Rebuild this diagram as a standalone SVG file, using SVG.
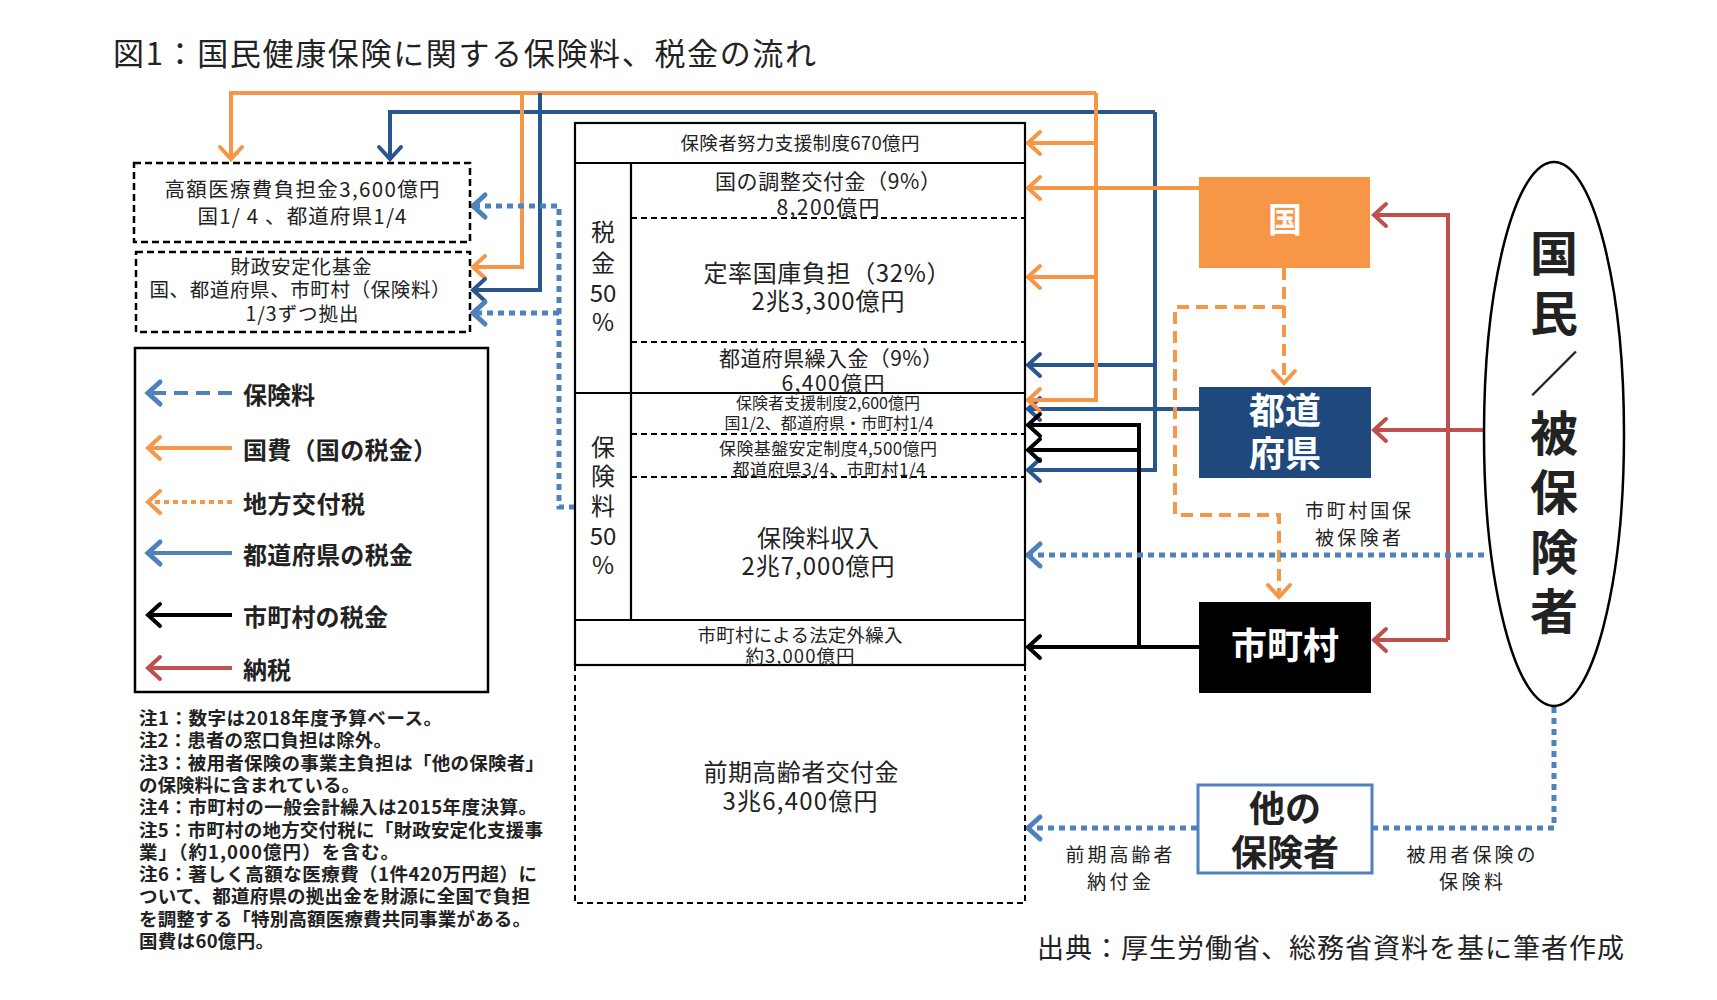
<svg xmlns="http://www.w3.org/2000/svg" width="1717" height="1000" viewBox="0 0 1717 1000">
<style>
text{font-family:"Noto Sans CJK JP","Noto Sans",sans-serif;fill:#222;dominant-baseline:central}
.m{text-anchor:middle}
.b{font-weight:bold}
.w{fill:#fff;font-weight:bold;text-anchor:middle}
.c{fill:none;stroke-width:4;stroke-linejoin:miter}
.or{stroke:#F79646}
.nv{stroke:#2A5690}
.bk{stroke:#000}
.rd{stroke:#C0504D}
.lb{stroke:#4F81BD}
.od{stroke:#F79646;stroke-dasharray:12 7}
.bd{stroke:#4F81BD;stroke-width:5;stroke-dasharray:6 5}
.dash{fill:none;stroke:#000;stroke-width:2;stroke-dasharray:6 4}
.sol{fill:none;stroke:#000;stroke-width:2.2}
</style>
<defs>
<marker id="aO" markerUnits="userSpaceOnUse" viewBox="-16 -13 18 26" refX="0" refY="0" markerWidth="18" markerHeight="26" orient="auto" overflow="visible"><path d="M-13,-11 L-1,0 L-13,11" fill="none" stroke="#F79646" stroke-width="4" stroke-linecap="round"/></marker>
<marker id="aN" markerUnits="userSpaceOnUse" viewBox="-16 -13 18 26" refX="0" refY="0" markerWidth="18" markerHeight="26" orient="auto" overflow="visible"><path d="M-13,-11 L-1,0 L-13,11" fill="none" stroke="#2A5690" stroke-width="4" stroke-linecap="round"/></marker>
<marker id="aK" markerUnits="userSpaceOnUse" viewBox="-16 -13 18 26" refX="0" refY="0" markerWidth="18" markerHeight="26" orient="auto" overflow="visible"><path d="M-13,-11 L-1,0 L-13,11" fill="none" stroke="#000" stroke-width="4" stroke-linecap="round"/></marker>
<marker id="aR" markerUnits="userSpaceOnUse" viewBox="-16 -13 18 26" refX="0" refY="0" markerWidth="18" markerHeight="26" orient="auto" overflow="visible"><path d="M-13,-11 L-1,0 L-13,11" fill="none" stroke="#C0504D" stroke-width="4" stroke-linecap="round"/></marker>
<marker id="aB" markerUnits="userSpaceOnUse" viewBox="-16 -13 18 26" refX="0" refY="0" markerWidth="18" markerHeight="26" orient="auto" overflow="visible"><path d="M-13,-11 L-1,0 L-13,11" fill="none" stroke="#4F81BD" stroke-width="5" stroke-linecap="round"/></marker>
</defs>

<g id="title"><text x="113" y="51" font-size="31" textLength="703">図1：国民健康保険に関する保険料、税金の流れ</text></g>

<g id="connectors">
  <path class="c nv" d="M1155,112 H390 V160" marker-end="url(#aN)"/>
  <path class="c nv" d="M1155,112 V470 H1027" marker-end="url(#aN)"/>
  <path class="c nv" d="M1155,365 H1027" marker-end="url(#aN)"/>
  <path class="c nv" d="M1199,409 H1027" marker-end="url(#aN)"/>
  <path class="c or" d="M1096,93 H231 V160" marker-end="url(#aO)"/>
  <path class="c or" d="M1096,93 V400 H1027" marker-end="url(#aO)"/>
  <path class="c or" d="M1096,143 H1027" marker-end="url(#aO)"/>
  <path class="c or" d="M1096,277 H1027" marker-end="url(#aO)"/>
  <path class="c or" d="M1199,188 H1027" marker-end="url(#aO)"/>
  <path class="c or" d="M522,93 V267 H472" marker-end="url(#aO)"/>
  <path class="c nv" d="M540,93 V290 H472" marker-end="url(#aN)"/>
  <path class="c bk" d="M1199,647 H1027" marker-end="url(#aK)"/>
  <path class="c bk" d="M1139,647 V425 H1027" marker-end="url(#aK)"/>
  <path class="c bk" d="M1139,450 H1027" marker-end="url(#aK)"/>
  <path class="c rd" d="M1448,640 V215 H1373" marker-end="url(#aR)"/>
  <path class="c rd" d="M1448,640 H1373" marker-end="url(#aR)"/>
  <path class="c rd" d="M1484,430 H1373" marker-end="url(#aR)"/>
  <path class="c od" d="M1284,268 V384" marker-end="url(#aO)"/>
  <path class="c od" d="M1284,307 H1175 V515 H1279 V598" marker-end="url(#aO)"/>
  <path class="c bd" d="M575,507 H559 V206 H472" marker-end="url(#aB)"/>
  <path class="c bd" d="M559,313 H472" marker-end="url(#aB)"/>
  <path class="c bd" d="M1484,555 H1027" marker-end="url(#aB)"/>
  <path class="c bd" d="M1554,707 V828 H1373"/>
  <path class="c bd" d="M1197,828 H1027" marker-end="url(#aB)"/>
</g>

<g id="node-kogaku">
  <rect x="134" y="163" width="336" height="79" fill="#fff" stroke="#000" stroke-width="2.5" stroke-dasharray="7 4"/>
  <text class="m" x="302" y="188" font-size="20.5" textLength="275">高額医療費負担金3,600億円</text>
  <text class="m" x="302" y="215" font-size="20.5" textLength="209">国1/ 4 、都道府県1/4</text>
</g>
<g id="node-zaisei">
  <rect x="136" y="252" width="334" height="80" fill="#fff" stroke="#000" stroke-width="2.5" stroke-dasharray="7 4"/>
  <text class="m" x="301" y="265" font-size="19.5" textLength="141">財政安定化基金</text>
  <text class="m" x="300" y="288" font-size="19.5" textLength="301">国、都道府県、市町村（保険料）</text>
  <text class="m" x="302" y="312" font-size="19.5" textLength="113">1/3ずつ拠出</text>
</g>

<g id="legend">
  <rect x="135" y="348" width="353" height="344" fill="#fff" stroke="#000" stroke-width="2.5"/>
  <path class="c lb" d="M232,393 H147" stroke-width="5" stroke-dasharray="14 8" marker-end="url(#aB)"/>
  <path class="c or" d="M232,448 H147" stroke-width="5" marker-end="url(#aO)"/>
  <path class="c or" d="M232,502 H147" stroke-width="5" stroke-dasharray="5 4" marker-end="url(#aO)"/>
  <path class="c lb" d="M232,553 H147" stroke-width="5" marker-end="url(#aB)"/>
  <path class="c bk" d="M232,615 H147" stroke-width="5" marker-end="url(#aK)"/>
  <path class="c rd" d="M232,668 H147" stroke-width="5" marker-end="url(#aR)"/>
  <text class="b" x="243" y="393" font-size="24" textLength="72">保険料</text>
  <text class="b" x="243" y="448" font-size="24" textLength="194">国費（国の税金）</text>
  <text class="b" x="243" y="502" font-size="24" textLength="122">地方交付税</text>
  <text class="b" x="243" y="553" font-size="24" textLength="170">都道府県の税金</text>
  <text class="b" x="243" y="615" font-size="24" textLength="145">市町村の税金</text>
  <text class="b" x="243" y="668" font-size="24" textLength="48">納税</text>
</g>

<g id="notes" font-size="18.5" font-weight="bold">
  <text x="139" y="717" textLength="303">注1：数字は2018年度予算ベース。</text>
  <text x="139" y="739" textLength="253">注2：患者の窓口負担は除外。</text>
  <text x="139" y="762" textLength="405">注3：被用者保険の事業主負担は「他の保険者」</text>
  <text x="139" y="784" textLength="221">の保険料に含まれている。</text>
  <text x="139" y="806" textLength="398">注4：市町村の一般会計繰入は2015年度決算。</text>
  <text x="139" y="829" textLength="404">注5：市町村の地方交付税に「財政安定化支援事</text>
  <text x="139" y="851" textLength="260">業」（約1,000億円）を含む。</text>
  <text x="139" y="873" textLength="398">注6：著しく高額な医療費（1件420万円超）に</text>
  <text x="139" y="895" textLength="391">ついて、都道府県の拠出金を財源に全国で負担</text>
  <text x="139" y="918" textLength="392">を調整する「特別高額医療費共同事業がある。</text>
  <text x="139" y="940" textLength="135">国費は60億円。</text>
</g>

<g id="node-kokuho-finance">
  <rect x="575" y="123" width="450" height="542" fill="#fff" stroke="none"/>
  <path class="dash" d="M575,665 V903 H1025 V665"/>
  <rect class="sol" x="575" y="123" width="450" height="542"/>
  <line class="sol" x1="575" y1="163" x2="1025" y2="163"/>
  <line class="sol" x1="631" y1="163" x2="631" y2="620"/>
  <line class="dash" x1="631" y1="218" x2="1025" y2="218"/>
  <line class="dash" x1="631" y1="342" x2="1025" y2="342"/>
  <line class="sol" x1="575" y1="393" x2="1025" y2="393"/>
  <line class="dash" x1="631" y1="434" x2="1025" y2="434"/>
  <line class="dash" x1="631" y1="477" x2="1025" y2="477"/>
  <line class="sol" x1="575" y1="620" x2="1025" y2="620"/>

  <text class="m" x="800" y="142" font-size="18.5" textLength="239">保険者努力支援制度670億円</text>
  <text class="m" x="603" y="230" font-size="24">税</text>
  <text class="m" x="603" y="261" font-size="24">金</text>
  <text class="m" x="603" y="291" font-size="24">50</text>
  <text class="m" x="603" y="320" font-size="24">%</text>
  <text class="m" x="828" y="180" font-size="21" textLength="226">国の調整交付金（9%）</text>
  <text class="m" x="828" y="206" font-size="21" textLength="103">8,200億円</text>
  <text class="m" x="827" y="271" font-size="24" textLength="247">定率国庫負担（32%）</text>
  <text class="m" x="828" y="299" font-size="24" textLength="153">2兆3,300億円</text>
  <text class="m" x="831" y="357" font-size="21" textLength="224">都道府県繰入金（9%）</text>
  <text class="m" x="833" y="382" font-size="21" textLength="103">6,400億円</text>
  <text class="m" x="828" y="402" font-size="16" textLength="184">保険者支援制度2,600億円</text>
  <text class="m" x="829" y="422" font-size="16" textLength="209">国1/2、都道府県・市町村1/4</text>
  <text class="m" x="828" y="447" font-size="17" textLength="218">保険基盤安定制度4,500億円</text>
  <text class="m" x="829" y="468" font-size="17" textLength="193">都道府県3/4、市町村1/4</text>
  <text class="m" x="603" y="445" font-size="24">保</text>
  <text class="m" x="603" y="474" font-size="24">険</text>
  <text class="m" x="603" y="504" font-size="24">料</text>
  <text class="m" x="603" y="534" font-size="24">50</text>
  <text class="m" x="603" y="563" font-size="24">%</text>
  <text class="m" x="818" y="536" font-size="24" textLength="122">保険料収入</text>
  <text class="m" x="818" y="564" font-size="24" textLength="153">2兆7,000億円</text>
  <text class="m" x="800" y="634" font-size="18.5" textLength="205">市町村による法定外繰入</text>
  <text class="m" x="800" y="655" font-size="18.5" textLength="109">約3,000億円</text>
  <text class="m" x="801" y="770" font-size="24" textLength="195">前期高齢者交付金</text>
  <text class="m" x="800" y="799" font-size="24" textLength="155">3兆6,400億円</text>
</g>

<g id="node-kuni">
  <rect x="1199" y="177" width="171" height="91" fill="#F79646"/>
  <text class="w" x="1285" y="217" font-size="34">国</text>
</g>
<g id="node-todofuken">
  <rect x="1199" y="387" width="172" height="91" fill="#1F497D"/>
  <text class="w" x="1285" y="408" font-size="36">都道</text>
  <text class="w" x="1285" y="451" font-size="36">府県</text>
</g>
<g id="node-shichoson">
  <rect x="1199" y="602" width="172" height="91" fill="#000"/>
  <text class="w" x="1285" y="643" font-size="36">市町村</text>
</g>
<g id="node-other">
  <rect x="1198" y="785" width="174" height="88" fill="#fff" stroke="#4F81BD" stroke-width="3"/>
  <text class="m b" x="1285" y="806" font-size="36">他の</text>
  <text class="m b" x="1285" y="850" font-size="36">保険者</text>
</g>
<g id="node-kokumin">
  <ellipse cx="1554" cy="434" rx="70" ry="272" fill="#fff" stroke="#000" stroke-width="2.5"/>
  <text class="m b" x="1554" y="250" font-size="48">国</text>
  <text class="m b" x="1554" y="310" font-size="48">民</text>
  <text class="m b" x="1554" y="370" font-size="48">／</text>
  <text class="m b" x="1554" y="430" font-size="48">被</text>
  <text class="m b" x="1554" y="489" font-size="48">保</text>
  <text class="m b" x="1554" y="549" font-size="48">険</text>
  <text class="m b" x="1554" y="608" font-size="48">者</text>
</g>

<g id="labels">
  <text class="m" x="1358" y="509" font-size="19" textLength="106">市町村国保</text>
  <text class="m" x="1358" y="536" font-size="19" textLength="86">被保険者</text>
  <text class="m" x="1119" y="853" font-size="19" textLength="107">前期高齢者</text>
  <text class="m" x="1119" y="880" font-size="19" textLength="64">納付金</text>
  <text class="m" x="1471" y="853" font-size="19" textLength="129">被用者保険の</text>
  <text class="m" x="1471" y="880" font-size="19" textLength="64">保険料</text>
  <text x="1037" y="946" font-size="27" textLength="587">出典：厚生労働省、総務省資料を基に筆者作成</text>
</g>
</svg>
